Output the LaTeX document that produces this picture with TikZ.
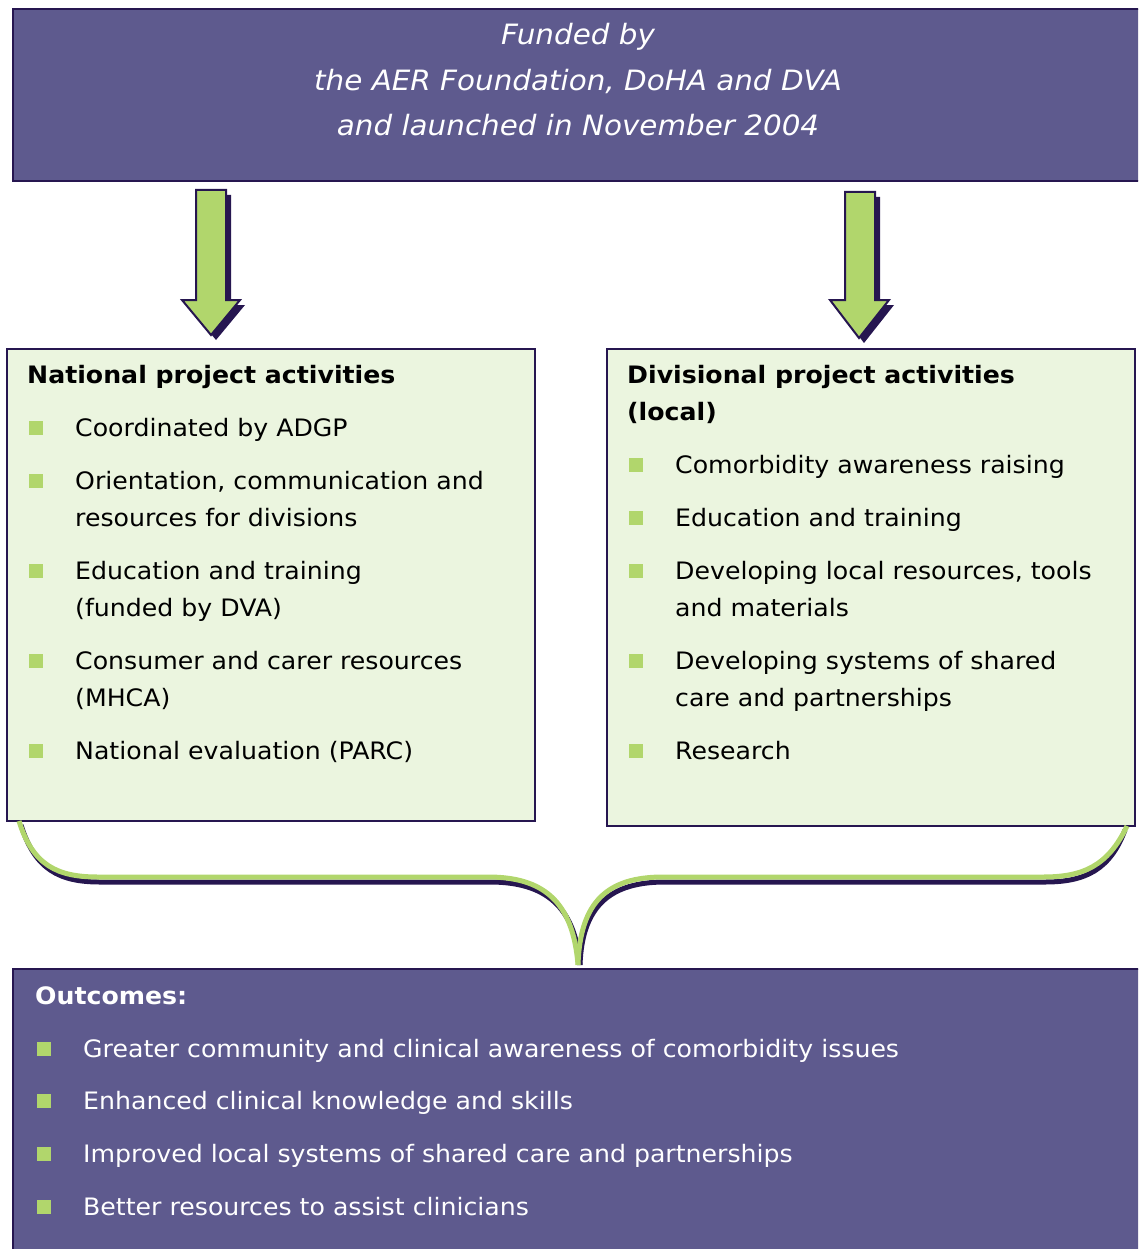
\documentclass[tikz,border=0pt]{standalone}
\usepackage{fontspec}
\setmainfont[FakeStretch=1.05]{DejaVu Sans}
\usetikzlibrary{positioning}
\definecolor{boxpurple}{HTML}{5E5A8E}
\definecolor{edgepurple}{HTML}{261650}
\definecolor{leafgreen}{HTML}{B1D66C}
\definecolor{palegreen}{HTML}{EBF5DF}
\tikzset{bigbox/.style={fill=boxpurple,draw=edgepurple,line width=2pt,inner sep=0pt}}
\tikzset{listbox/.style={fill=palegreen,draw=edgepurple,line width=1.8pt,inner sep=0pt}}
\tikzset{listtext/.style={anchor=base west,inner sep=0pt,align=left,font=\fontsize{24}{37}\selectfont}}
\tikzset{listhead/.style={listtext,font=\fontsize{24}{37}\selectfont\bfseries}}
\tikzset{bul/.style={fill=leafgreen,minimum size=14pt,inner sep=0pt}}
\tikzset{downarrow/.style={fill=leafgreen,draw=edgepurple,line width=2pt,line join=miter}}
\tikzset{brace/.style={draw=leafgreen,line width=5pt}}
\tikzset{braceshadow/.style={draw=edgepurple,line width=5pt}}

\begin{document}
\begin{tikzpicture}[x=1pt,y=-1pt]
    \useasboundingbox (0,0) rectangle (1138,1249);
    \clip (0,0) rectangle (1138,1249);
    % funding box
    \node[bigbox,minimum width=1140pt,minimum height=172pt,anchor=north west] (funded) at (12,8) {};
    \node[anchor=base,text=white,font=\fontsize{28}{45.5}\selectfont\itshape,align=center] (fundtext) at (578,136)
        {Funded by\\the AER Foundation, DoHA and DVA\\and launched in November 2004};
    % arrows
    \fill[edgepurple] (201,195) -- (231,195) -- (231,305) -- (245,305) -- (216,340) -- (187,305) -- (201,305) -- cycle;
    \draw[downarrow] (196,190) -- (226,190) -- (226,300) -- (240,300) -- (211,335) -- (182,300) -- (196,300) -- cycle;
    \fill[edgepurple] (850,197) -- (880,197) -- (880,305) -- (894,305) -- (864,343) -- (835,305) -- (850,305) -- cycle;
    \draw[downarrow] (845,192) -- (875,192) -- (875,300) -- (889,300) -- (859,338) -- (830,300) -- (845,300) -- cycle;
    % national (text y = last line)
    \node[listbox,minimum width=528pt,minimum height=472pt,anchor=north west] (national) at (6,348) {};
    \node[listhead] (nathead) at (27,383) {National project activities};
    \foreach \yb/\yt/\txt [count=\i] in {428/428/{Coordinated by ADGP},
        481/518/{Orientation, communication and\\resources for divisions},
        571/608/{Education and training\\(funded by DVA)},
        661/698/{Consumer and carer resources\\(MHCA)},
        751/751/{National evaluation (PARC)}}{
        \node[bul] (natbul\i) at (36,\yb) {};
        \node[listtext] (natitem\i) at (75,\yt+8) {\txt};
    }
    % divisional
    \node[listbox,minimum width=528pt,minimum height=477pt,anchor=north west] (divisional) at (606,348) {};
    \node[listhead] (divhead) at (627,420) {Divisional project activities\\(local)};
    \foreach \yb/\yt/\txt [count=\i] in {465/465/{Comorbidity awareness raising},
        518/518/{Education and training},
        571/608/{Developing local resources, tools\\and materials},
        661/698/{Developing systems of shared\\care and partnerships},
        751/751/{Research}}{
        \node[bul] (divbul\i) at (636,\yb) {};
        \node[listtext] (divitem\i) at (675,\yt+8) {\txt};
    }
    % brace
    \coordinate (natfoot) at (19,821);
    \coordinate (divfoot) at (1127,826);
    \coordinate (tip) at (578,965);
    \draw[braceshadow] ([shift={(2,4)}]natfoot) .. controls (35,870) and (60,882) .. (100,882)
        -- (490,882) .. controls (545,882) and (575,906) .. ([shift={(2,0)}]tip);
    \draw[braceshadow] ([shift={(-2,4)}]divfoot) .. controls (1110,870) and (1085,882) .. (1045,882)
        -- (665,882) .. controls (610,882) and (582,906) .. ([shift={(2,0)}]tip);
    \draw[brace] (natfoot) .. controls (33,866) and (58,877) .. (98,877)
        -- (488,877) .. controls (543,877) and (573,901) .. (tip);
    \draw[brace] (divfoot) .. controls (1108,866) and (1083,877) .. (1043,877)
        -- (663,877) .. controls (608,877) and (580,901) .. (tip);
    % outcomes
    \node[bigbox,minimum width=1140pt,minimum height=300pt,anchor=north west] (outcomes) at (12,968) {};
    \node[listhead,text=white] (outhead) at (35,1004) {Outcomes:};
    \foreach \yb/\txt [count=\i] in {1049/{Greater community and clinical awareness of comorbidity issues},
        1101/{Enhanced clinical knowledge and skills},
        1154/{Improved local systems of shared care and partnerships},
        1207/{Better resources to assist clinicians}}{
        \node[bul] (outbul\i) at (44,\yb) {};
        \node[listtext,text=white] (outitem\i) at (83,\yb+8) {\txt};
    }
\end{tikzpicture}
\end{document}
